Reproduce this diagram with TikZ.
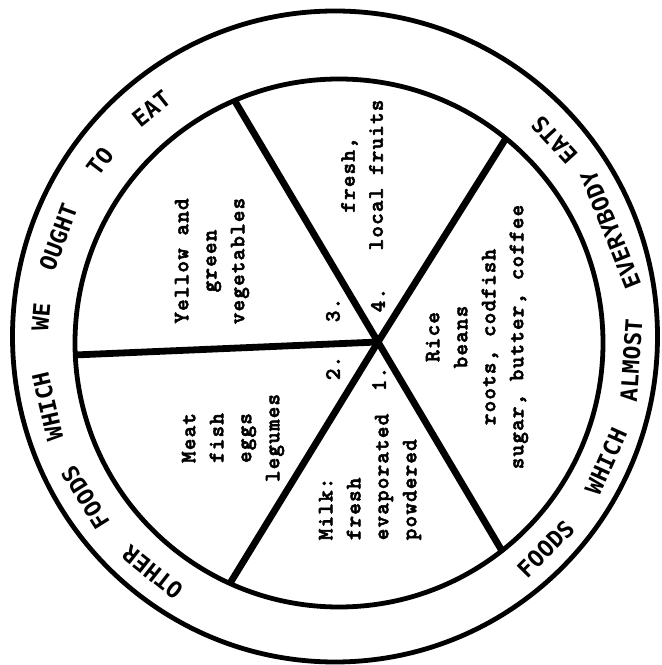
\documentclass[tikz,border=0pt]{standalone}
\usepackage{fontspec}
\newfontfamily\typefont{lmmonolt10-bold.otf}[LetterSpace=5.5, FakeBold=2.5]
\newfontfamily\ringfont{DejaVu Sans Mono}
\usetikzlibrary{calc}

\begin{document}
\begin{tikzpicture}[x=1pt, y=1pt, line width=4.8pt,
      every node/.style={inner sep=0pt},
      food/.style={rotate=90, align=center,
        font=\typefont\fontsize{22}{28}\selectfont},
      ring/.style={font=\ringfont\bfseries\fontsize{23}{23}\selectfont}]
    \useasboundingbox (0,0) rectangle (662,665);
    % rim of the plate and the inner circle
    \draw (335,328.5) ellipse [x radius=322.5, y radius=325.5];
    \coordinate (plate) at (339,322);
    \draw (plate) circle [radius=264];
    % spokes from the hub out to the inner circle
    \coordinate (hub) at (378,323);
    \foreach \s/\a in {veg/113.3, fruit/50.8, meat/182.6, milk/245.6, rice/308.1}{
      \coordinate (rim\s) at ($(plate)+(\a:264)$);
      \draw[line width=6.8pt] (hub) -- (rim\s);
    }
    % the five groups
    \node[food] (veg) at (212,404) {Yellow and\\green\\vegetables};
    \node[food] (fruit) at (362,490) {fresh,\\local fruits};
    \node[food] (meat) at (233,227) {Meat\\fish\\eggs\\legumes};
    \node[food, align=left] (milk) at (370,188)
      {Milk:\\fresh\\evaporated\\powdered};
    \node[food] (rice) at (477,328)
      {Rice\\beans\\roots, codfish\\sugar, butter, coffee};
    \foreach \n/\x/\y in {1/379/286, 2/333/297, 3/333/355, 4/378/365}
      \node[food] (num\n) at (\x,\y) {\n.};
    % words round the rim
    \coordinate (mid) at (336,325);
    \foreach \w/\a in {OTHER/231.7, FOODS/212.1, WHICH/193, WE/175.5,
        OUGHT/159.7, TO/142.9, EAT/128.6}
      \node[ring, rotate=\a-90] (l\w) at ($(mid)+(\a:296)$) {\w};
    \foreach \w/\a in {FOODS/315.1, WHICH/335.8, ALMOST/356.1,
        EVERYBODY/21.9, EATS/42.5}
      \node[ring, rotate=\a+90] (r\w) at ($(mid)+(\a:296)$) {\w};
  \end{tikzpicture}
\end{document}
